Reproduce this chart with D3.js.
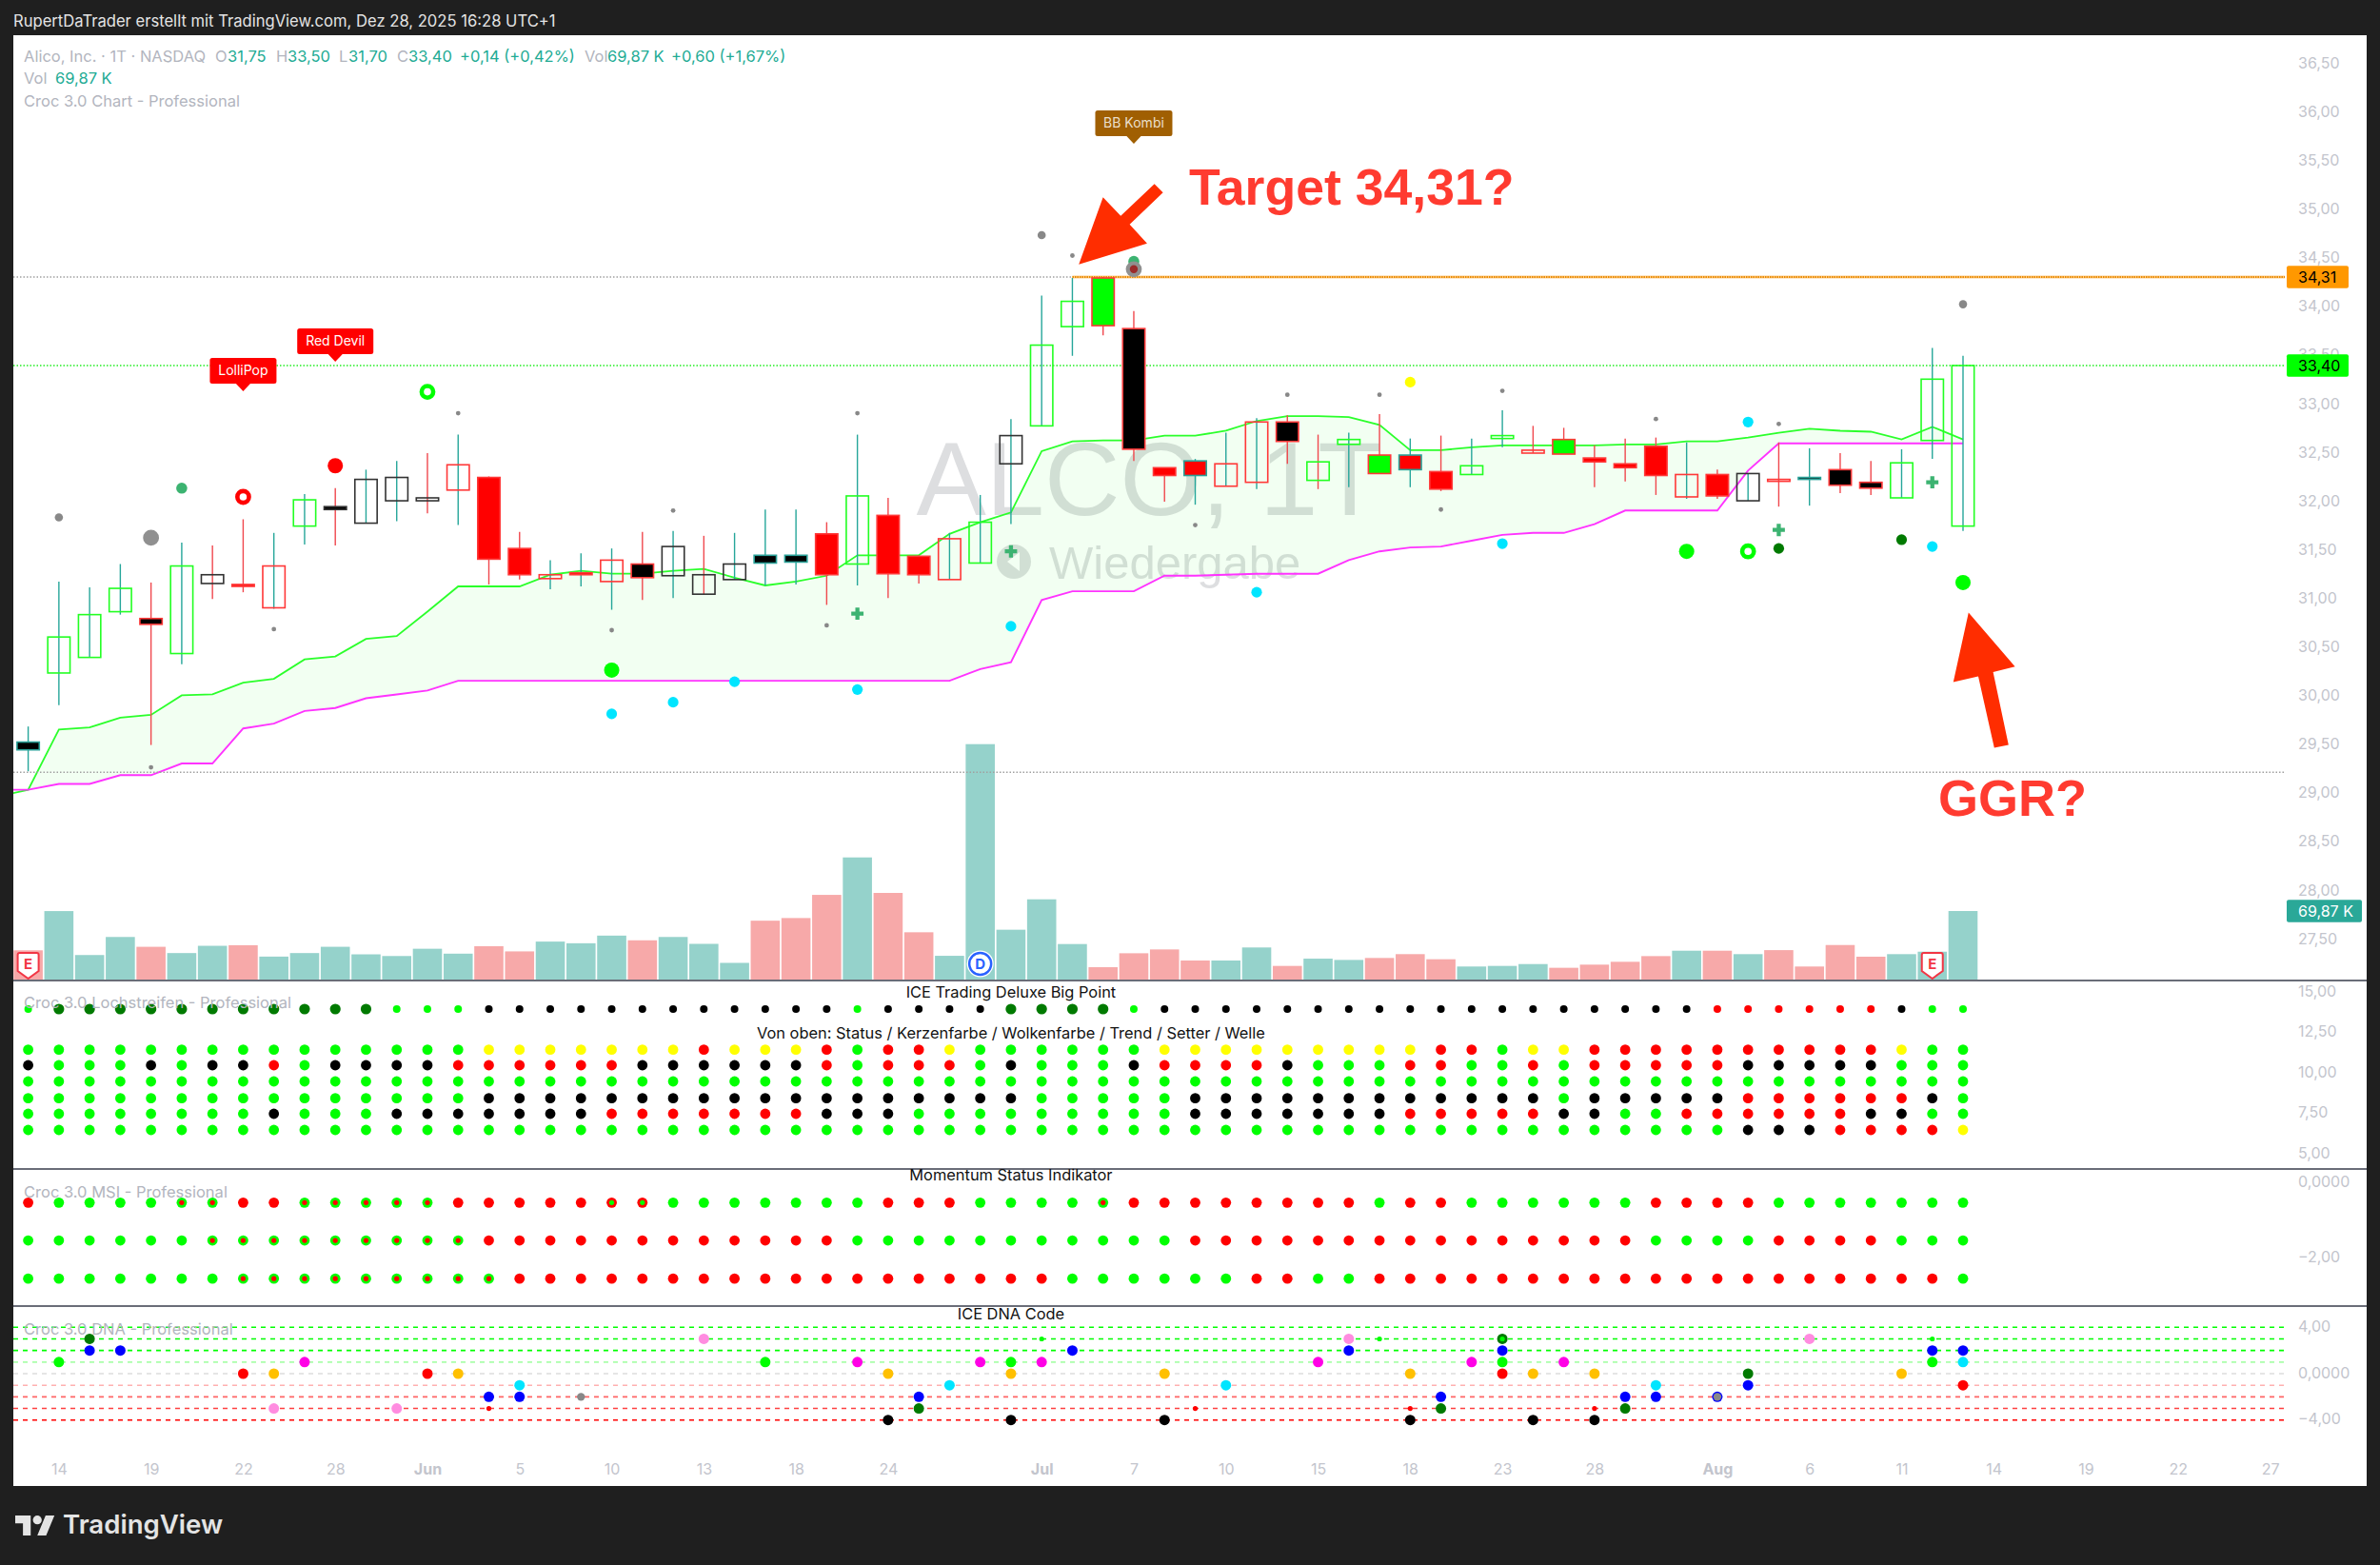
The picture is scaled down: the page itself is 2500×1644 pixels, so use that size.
<!DOCTYPE html>
<html>
<head>
<meta charset="utf-8">
<script src="https://cdn.jsdelivr.net/npm/d3@7"></script>
<style>
  html, body { margin: 0; padding: 0; background: #1f1f1f; }
  svg { display: block; }
  text { font-family: Inter, "Liberation Sans", sans-serif; }
</style>
</head>
<body>
<svg id="chart" width="2500" height="1644"></svg>
<script>
// candles, one per trading day from May 13 to Aug 13
const opens = [29.45,30.24,30.40,30.87,30.80,30.44,31.25,31.15,30.91,31.75,31.95,31.78,32.01,32.04,32.12,32.25,31.52,31.21,31.25,31.18,31.36,31.24,31.25,31.20,31.37,31.38,31.67,31.36,31.86,31.44,31.20,31.37,32.39,32.78,33.80,34.30,33.78,32.35,32.27,32.16,32.20,32.82,32.41,32.59,32.48,32.33,32.31,32.28,32.65,32.53,32.64,32.45,32.39,32.57,32.05,32.28,32.01,32.23,32.23,32.33,32.20,32.04,32.63,31.75];
const highs = [29.69,31.18,31.12,31.36,31.17,31.58,31.55,31.82,31.68,32.08,32.14,32.33,32.42,32.50,32.69,32.26,31.69,31.40,31.47,31.52,31.69,31.70,31.65,31.68,31.92,31.92,31.79,32.69,32.04,31.45,31.68,32.07,32.85,34.12,34.30,34.31,33.96,32.35,32.44,32.71,32.86,32.89,32.69,32.71,32.90,32.65,32.68,32.65,32.94,32.78,32.76,32.58,32.65,32.66,32.61,32.33,32.29,32.61,32.55,32.50,32.42,32.54,33.58,33.50];
const lows = [29.23,29.91,30.40,30.84,29.50,30.33,31.00,31.07,30.90,31.56,31.55,31.78,31.80,31.88,31.76,31.15,31.20,31.10,31.13,30.89,30.99,31.01,31.05,31.20,31.14,31.15,30.94,31.14,31.01,31.16,31.20,31.37,31.77,32.78,33.50,33.71,32.42,32.00,31.97,32.16,32.13,32.39,32.13,32.15,32.29,32.15,32.11,32.28,32.56,32.50,32.49,32.15,32.21,32.07,32.03,32.03,32.01,31.95,31.96,32.09,32.07,32.04,32.44,31.70];
const closes = [29.53,30.61,30.84,31.11,30.74,31.34,31.16,31.13,31.34,32.02,31.92,32.23,32.25,32.01,32.38,31.41,31.25,31.25,31.27,31.40,31.22,31.54,31.05,31.36,31.45,31.45,31.25,32.06,31.26,31.25,31.62,31.79,32.68,33.61,34.06,33.81,32.54,32.27,32.42,32.39,32.82,32.62,32.22,32.64,32.29,32.48,32.13,32.37,32.68,32.50,32.49,32.41,32.35,32.27,32.28,32.06,32.29,32.21,32.25,32.17,32.14,32.40,33.26,33.40];
const bodyFill = "KWWWKWWRWWKWWWWRRWRWKWWWKKRWRRWWWWWGKRRWWKWWGRRWWWGRRRWRWWKKKWWW".split("");
const bodyBorder = "TGGGRGKRRGKKKKRRRRRRRKKKTTRGRRRGKGGRRRTRRRGGRTRGGRRRRRRRKRTRRGGG".split("");

const volumes = [29.8,69.8,25,43.4,33.4,27,34.4,35,23.4,27,33.4,25.7,24,31.4,26.4,34,28.7,38.7,37,44.8,40,43.4,36.4,17,60,62.7,86.3,124.5,88.3,48.2,24.2,240,50.8,81.8,36.2,12.6,26.8,30.7,19.4,19.4,32.7,13.9,21.3,20,22,25.9,20.7,13.3,13.9,15.8,12,15.2,18.1,23.9,29.4,29.4,25.9,30,13.3,35.2,23.3,25.9,28.4,69.87];
const volumeSide = "RTTTRTTRTTTTTTTRRTTTRTTTRRRTRRTTTTTRRRRTTRTTRRRTTTRRRRTRTRRRRTTT".split("");

// cloud starts one day before the first candle, the left part is clipped
const cloudDays = d3.range(-1, 64);
const cloudUpper = [28.97,29.04,29.66,29.68,29.78,29.81,30.01,30.02,30.14,30.18,30.38,30.41,30.59,30.62,30.87,31.13,31.13,31.13,31.25,31.29,31.26,31.26,31.29,31.31,31.22,31.14,31.18,31.24,31.45,31.45,31.45,31.67,31.79,31.89,32.52,32.62,32.63,32.63,32.68,32.68,32.73,32.83,32.88,32.88,32.87,32.79,32.53,32.53,32.56,32.58,32.58,32.58,32.58,32.59,32.59,32.62,32.62,32.66,32.71,32.75,32.73,32.72,32.64,32.77,32.64];
const cloudLower = [29.04,29.04,29.10,29.10,29.19,29.19,29.31,29.31,29.67,29.72,29.85,29.88,29.98,30.02,30.06,30.16,30.16,30.16,30.16,30.16,30.16,30.16,30.16,30.16,30.16,30.16,30.16,30.16,30.16,30.16,30.16,30.16,30.28,30.35,30.99,31.08,31.08,31.08,31.24,31.24,31.25,31.26,31.26,31.26,31.40,31.49,31.53,31.54,31.60,31.66,31.68,31.68,31.77,31.91,31.91,31.91,31.91,32.32,32.60,32.60,32.60,32.60,32.60,32.60,32.60];

// markers on the price pane as [day, price]
const grayTiny = [[14,32.91],[8,30.69],[4,29.27],[19,30.68],[21,31.91],[26,30.73],[27,32.91],[34,34.53],[38,31.76],[41,33.10],[44,33.10],[46,31.92],[48,33.14],[53,32.85],[57,32.80]];
const grayMid = [[1,31.84],[33,34.74],[63,34.03]];
const grayBig = [[4,31.63],[36,34.39]];
const seaGreenDots = [[5,32.14],[36,34.47]];
const redBig = [[10,32.37]];
const redRings = [[7,32.05]];
const limeRings = [[13,33.13],[56,31.49]];
const limeBig = [[19,30.27],[54,31.49],[63,31.17]];
const cyanDots = [[19,29.82],[21,29.94],[23,30.15],[27,30.07],[32,30.72],[40,31.07],[48,31.57],[56,32.82],[62,31.54]];
const yellowDots = [[45,33.23]];
const darkGreenDots = [[57,31.52],[61,31.61]];
const plusMarks = [[27,30.85],[32,31.49],[57,31.71],[62,32.20]];
const brownCenters = [[36,34.39]];

const priceTicks = [36.5,36,35.5,35,34.5,34,33.5,33,32.5,32,31.5,31,30.5,30,29.5,29,28.5,28,27.5];
const dateTickDays = [1,4,7,10,13,16,19,22,25,28,33,36,39,42,45,48,51,55,58,61,64,67,70,73];
const dateTickLabels = ["14","19","22","28","Jun","5","10","13","18","24","Jul","7","10","15","18","23","28","Aug","6","11","14","19","22","27"];

// ICE pane, one row per indicator value
const iceTicks = [15,12.5,10,7.5,5];
const bigPointLevel = 13.94;
const bigPointRow = "GDDDDDDDDDDDGGGKKKKKKKKKKKKGKKKKDDDDGKKKKKKKKKKKKKKKKKKRRRRRRKGG".split("");
const iceLevels = [11.43,10.47,9.47,8.43,7.47,6.47];
const iceRows = [
  "GGGGGGGGGGGGGGGYYYYYYYRYYYRGRRYGGGGGGYYYYYYYYYRRGYYRRRRRRRRRRYGG",
  "KGGGKGKKRGKKKKRRRRRRKKKKKKRGRRRGKGGGKRRRRKGGGRRGGRGRRRRRKKKKKGGG",
  "GGGGGGGGGGGGGGGGGGGGGGGGGGGGGGGGGGGGGGGGGGGGGGGGGGGGGGGGGGGGGGGG",
  "GGGGGGGGGGGGGGGKKKKKKKKKKKKKKKKKKGGGGGKKKKKKKKKKKKGKKKKKRRRRRRKG",
  "GGGGGGGGKGGGKKKKKKKRRRRRRRKKKGGGGGGGGGKKKKKKKRRRRRKKGGRRRRRRKKGG",
  "GGGGGGGGGGGGGGGGGGGGGGGGGGGGGGGGGGGGGGGGGGGGGGGGGGGGGGGGKKKRRRRY"
].map(r => r.split(""));

// MSI pane, g = green with red core, r = red with green core
const msiTicks = [0,-2];
const msiLevels = [-0.53,-1.53,-2.54];
const msiRows = [
  "RGGGGggRRgggggRRRRRrrGGGGGGGRRRGGGGgRRRRRRRRGRRGGGGGGRRRRGGGGGGG",
  "GGGGGGgggggggggRRRRRRRRRRRRGGGGGGGGGGGRRRRRRRRRRRRRRRGGGGRRRRGGG",
  "GGGGGGGgggggggggRRRRRRRRRRRRRRRRRRGGGGGGRRGGRRRRRRRRRRRRRRRRRRRG"
].map(r => r.split(""));

// DNA pane as [day, level]
const dnaTicks = [4,0,-4];
const dnaLevels = [4,3,2,1,0,-1,-2,-3,-4];
const dnaLime = [[1,1],[24,1],[32,1],[48,1],[62,1]];
const dnaDarkGreen = [[2,3],[29,-3],[46,-3],[48,3],[52,-3],[56,0]];
const dnaBlue = [[2,2],[3,2],[15,-2],[16,-2],[29,-2],[34,2],[43,2],[46,-2],[48,2],[52,-2],[53,-2],[55,-2],[56,-1],[62,2],[63,2]];
const dnaRed = [[7,0],[13,0],[48,0],[63,-1]];
const dnaAmber = [[8,0],[14,0],[28,0],[32,0],[37,0],[45,0],[49,0],[51,0],[61,0]];
const dnaPink = [[8,-3],[12,-3],[22,3],[43,3],[58,3]];
const dnaMagenta = [[9,1],[27,1],[31,1],[33,1],[42,1],[47,1],[50,1]];
const dnaCyan = [[16,-1],[30,-1],[39,-1],[53,-1],[63,1]];
const dnaBlack = [[28,-4],[32,-4],[37,-4],[45,-4],[49,-4],[51,-4]];
const dnaGray = [[18,-2],[55,-2]];
const dnaSmallLime = [[33,3],[44,3],[48,3],[62,3]];
const dnaSmallRed = [[15,-3],[38,-3],[45,-3],[51,-3]];

const targetPrice = 34.31;
const lastPrice = 33.40;
const lowLinePrice = 29.22;
const lastVolume = 69.87;

const svg = d3.select("#chart");

const plot = { left: 14, right: 2486, axis: 2400, top: 37, bottom: 1561 };
const sep = [1030, 1228, 1372];

const x = d3.scaleLinear().domain([0, 63]).range([29.6, 2062]);
const yPrice = d3.scaleLinear().domain([34.31, 27.5]).range([291, 987]);
const yVol = d3.scaleLinear().domain([0, lastVolume]).range([1029, 957]);
const yIce = d3.scaleLinear().domain([15, 5]).range([1042, 1212]);
const yMsi = d3.scaleLinear().domain([0, -2]).range([1242.3, 1321.7]);
const yDna = d3.scaleLinear().domain([4, -4]).range([1394.3, 1491.7]);

const deDE = d3.formatLocale({ decimal: ",", thousands: ".", grouping: [3], currency: ["", "€"], minus: "−" });
const fmt2 = deDE.format(".2f");

const TEAL = "#26a69a";
const colorMap = { G: "#00ff00", D: "#007a00", K: "#000000", R: "#ff0000", Y: "#ffff00" };

svg.append("rect").attr("width", 2500).attr("height", 1644).attr("fill", "#1f1f1f");
svg.append("rect")
  .attr("x", plot.left).attr("y", plot.top)
  .attr("width", plot.right - plot.left).attr("height", plot.bottom - plot.top)
  .attr("fill", "#fff");

svg.append("clipPath").attr("id", "mainClip").append("rect")
  .attr("x", plot.left).attr("y", plot.top)
  .attr("width", plot.axis - plot.left).attr("height", sep[0] - plot.top);

// watermark
const wm = svg.append("g").attr("fill", "#7d8088").attr("fill-opacity", 0.26);
wm.append("text").attr("x", 1207).attr("y", 541).attr("text-anchor", "middle")
  .attr("font-size", 110).style("font-family", "'Liberation Sans'").text("ALCO, 1T");
wm.append("circle").attr("cx", 1065).attr("cy", 590).attr("r", 18);
wm.append("path").attr("d", "M1071,580 L1058,590 L1071,600 Z").attr("fill", "#fff").attr("fill-opacity", 1);
wm.append("text").attr("x", 1102).attr("y", 608).attr("font-size", 49)
  .style("font-family", "'Liberation Sans'").text("Wiedergabe");

// volume
svg.append("g").selectAll("rect").data(volumes).join("rect")
  .attr("x", (d, i) => x(i) - 15.3)
  .attr("y", d => yVol(d))
  .attr("width", 30.6)
  .attr("height", d => yVol(0) - yVol(d))
  .attr("fill", (d, i) => volumeSide[i] === "T" ? "#95d2cb" : "#f7a9a9");

// cloud
const main = svg.append("g").attr("clip-path", "url(#mainClip)");
const area = d3.area()
  .x((d, i) => x(cloudDays[i]))
  .y0((d, i) => yPrice(cloudLower[i]))
  .y1(d => yPrice(d));
const lineOf = d3.line().x((d, i) => x(cloudDays[i])).y(d => yPrice(d));
main.append("path").attr("d", area(cloudUpper)).attr("fill", "#00ff00").attr("fill-opacity", 0.05);
main.append("path").attr("d", lineOf(cloudUpper)).attr("fill", "none").attr("stroke", "#2bff2b").attr("stroke-width", 1.8);
main.append("path").attr("d", lineOf(cloudLower)).attr("fill", "none").attr("stroke", "#ff33ff").attr("stroke-width", 1.9);

// price lines
svg.append("line").attr("x1", plot.left).attr("x2", x(34))
  .attr("y1", yPrice(targetPrice)).attr("y2", yPrice(targetPrice))
  .attr("stroke", "#a0a0a0").attr("stroke-width", 1.4).attr("stroke-dasharray", "1.5 2");
svg.append("line").attr("x1", x(34)).attr("x2", plot.axis)
  .attr("y1", yPrice(targetPrice)).attr("y2", yPrice(targetPrice))
  .attr("stroke", "#ffcf8f").attr("stroke-width", 3);
svg.append("line").attr("x1", x(34)).attr("x2", plot.axis)
  .attr("y1", yPrice(targetPrice)).attr("y2", yPrice(targetPrice))
  .attr("stroke", "#e88a00").attr("stroke-width", 2).attr("stroke-dasharray", "1.5 1");
svg.append("line").attr("x1", plot.left).attr("x2", plot.axis)
  .attr("y1", yPrice(lastPrice)).attr("y2", yPrice(lastPrice))
  .attr("stroke", "#22ee22").attr("stroke-width", 1.4).attr("stroke-dasharray", "1.5 2");
svg.append("line").attr("x1", plot.left).attr("x2", plot.axis)
  .attr("y1", yPrice(lowLinePrice)).attr("y2", yPrice(lowLinePrice))
  .attr("stroke", "#a0a0a0").attr("stroke-width", 1.4).attr("stroke-dasharray", "1.5 2");

// candles
const candles = svg.append("g");
candles.selectAll("line").data(opens).join("line")
  .attr("x1", (d, i) => x(i)).attr("x2", (d, i) => x(i))
  .attr("y1", (d, i) => yPrice(highs[i])).attr("y2", (d, i) => yPrice(lows[i]))
  .attr("stroke", (d, i) => closes[i] >= d ? TEAL : "#f0484e")
  .attr("stroke-width", 1.4);
candles.selectAll("rect").data(opens).join("rect")
  .attr("x", (d, i) => x(i) - 11.7)
  .attr("y", (d, i) => yPrice(Math.max(d, closes[i])))
  .attr("width", 23.4)
  .attr("height", (d, i) => Math.abs(yPrice(d) - yPrice(closes[i])))
  .attr("fill", (d, i) => {
    const f = bodyFill[i];
    return f === "W" ? "#fff" : colorMap[f];
  })
  .attr("fill-opacity", (d, i) => bodyFill[i] === "W" ? 0 : 1)
  .attr("stroke", (d, i) => {
    const b = bodyBorder[i];
    return b === "T" ? "#2aa198" : b === "R" ? "#ff3838" : b === "G" ? "#22ff22" : "#333";
  })
  .attr("stroke-width", 1.6);

function drawDots(g, data, y, color, r) {
  g.append("g").selectAll("circle").data(data).join("circle")
    .attr("cx", d => x(d[0]))
    .attr("cy", d => y(d[1]))
    .attr("r", r)
    .attr("fill", color);
}

function drawRings(g, data, color) {
  g.append("g").selectAll("circle").data(data).join("circle")
    .attr("cx", d => x(d[0]))
    .attr("cy", d => yPrice(d[1]))
    .attr("r", 6.1)
    .attr("fill", "#fff")
    .attr("stroke", color)
    .attr("stroke-width", 4.6);
}

const marks = svg.append("g");
drawDots(marks, seaGreenDots, yPrice, "#3cb371", 5.8);
drawDots(marks, grayTiny, yPrice, "#888", 2.4);
drawDots(marks, grayMid, yPrice, "#888", 4.3);
drawDots(marks, grayBig, yPrice, "#909090", 8.4);
drawDots(marks, brownCenters, yPrice, "#9c2a2a", 4.2);
drawDots(marks, redBig, yPrice, "#ff0000", 8);
drawDots(marks, limeBig, yPrice, "#00ff00", 8);
drawDots(marks, cyanDots, yPrice, "#00e5ff", 5.6);
drawDots(marks, yellowDots, yPrice, "#ffff00", 5.6);
drawDots(marks, darkGreenDots, yPrice, "#007a00", 5.6);
drawRings(marks, redRings, "#ff0000");
drawRings(marks, limeRings, "#00ff00");
marks.append("g").selectAll("path").data(plusMarks).join("path")
  .attr("d", d3.symbol(d3.symbolCross).size(92))
  .attr("transform", d => `translate(${x(d[0])},${yPrice(d[1])})`)
  .attr("fill", "#3cb371");

// labels with a pointer, tip anchored on the bar
function flag(day, price, name, color, textColor, w) {
  const tx = x(day), ty = yPrice(price);
  const g = svg.append("g").attr("transform", `translate(${tx},${ty})`);
  g.append("rect").attr("x", -w / 2).attr("y", -35).attr("width", w).attr("height", 27)
    .attr("rx", 2.5).attr("fill", color);
  g.append("path").attr("d", "M-8,-8.5 L0,0 L8,-8.5 Z").attr("fill", color);
  g.append("text").attr("y", -21.5).attr("text-anchor", "middle").attr("dy", "0.35em")
    .attr("font-size", 14).attr("fill", textColor).text(name);
}
flag(7, 33.136, "LolliPop", "#ff0000", "#fff", 70);
flag(10, 33.44, "Red Devil", "#ff0000", "#fff", 80);
flag(36, 35.68, "BB Kombi", "#a05f02", "#eadfcb", 81);

// event badges at the foot of the volume bars
function earnings(day) {
  const g = svg.append("g").attr("transform", `translate(${x(day)},${yVol(0) - 28})`);
  g.append("path").attr("d", "M-11,2 Q-11,0 -9,0 L9,0 Q11,0 11,2 L11,19 L0,27 L-11,19 Z")
    .attr("fill", "#fff").attr("stroke", "#f23645").attr("stroke-width", 2);
  g.append("text").attr("y", 17).attr("text-anchor", "middle").attr("font-size", 15).attr("font-weight", 700)
    .attr("fill", "#f23645").text("E");
}
earnings(0);
earnings(62);
const div = svg.append("g").attr("transform", `translate(${x(31)},${yVol(0) - 16.5})`);
div.append("circle").attr("r", 14).attr("fill", "#fff");
div.append("circle").attr("r", 11.5).attr("fill", "#fff").attr("stroke", "#2962ff").attr("stroke-width", 2.5);
div.append("text").attr("text-anchor", "middle").attr("dy", "0.36em").attr("font-size", 15).attr("font-weight", 700)
  .attr("fill", "#2962ff").text("D");

// pane separators
svg.append("g").selectAll("line").data(sep).join("line")
  .attr("x1", plot.left).attr("x2", plot.right)
  .attr("y1", d => d).attr("y2", d => d)
  .attr("stroke", "#6a6d78").attr("stroke-width", 2);

// ICE pane
const ice = svg.append("g");
function bigPointR(c) { return c === "D" ? 5.6 : 4; }
ice.append("g").selectAll("circle").data(bigPointRow).join("circle")
  .attr("cx", (d, i) => x(i))
  .attr("cy", yIce(bigPointLevel))
  .attr("r", d => bigPointR(d))
  .attr("fill", d => colorMap[d]);
iceRows.forEach((row, r) => {
  ice.append("g").selectAll("circle").data(row).join("circle")
    .attr("cx", (d, i) => x(i))
    .attr("cy", yIce(iceLevels[r]))
    .attr("r", 5.4)
    .attr("fill", d => colorMap[d]);
});

// MSI pane
const msi = svg.append("g");
msiRows.forEach((row, r) => {
  msi.append("g").selectAll("circle").data(row).join("circle")
    .attr("cx", (d, i) => x(i))
    .attr("cy", yMsi(msiLevels[r]))
    .attr("r", 5.4)
    .attr("fill", d => (d === "G" || d === "g") ? "#00ff00" : "#ff0000");
  msi.append("g").selectAll("circle")
    .data(row.map((d, i) => [i, d]).filter(d => d[1] === "g" || d[1] === "r"))
    .join("circle")
    .attr("cx", d => x(d[0]))
    .attr("cy", yMsi(msiLevels[r]))
    .attr("r", 2.6)
    .attr("fill", d => d[1] === "g" ? "#ff0000" : "#00ff00");
});

// DNA pane, level lines first and the dots over them
const dnaColors = { "4": "#00ff00", "3": "#00ff00", "2": "#00ff00", "1": "#aaffaa", "0": "#dddddd", "-1": "#ffb0b0", "-2": "#ff6666", "-3": "#ff4040", "-4": "#ff0000" };
svg.append("g").selectAll("line").data(dnaLevels).join("line")
  .attr("x1", plot.left).attr("x2", plot.axis)
  .attr("y1", d => yDna(d)).attr("y2", d => yDna(d))
  .attr("stroke", d => dnaColors[d])
  .attr("stroke-width", 1.6)
  .attr("stroke-dasharray", "5 5");
const dna = svg.append("g");
drawDots(dna, dnaBlue, yDna, "#0000ff", 5.5);
drawDots(dna, dnaGray, yDna, "#888", 4.2);
drawDots(dna, dnaLime, yDna, "#00ff00", 5.5);
drawDots(dna, dnaDarkGreen, yDna, "#007a00", 5.5);
drawDots(dna, dnaRed, yDna, "#ff0000", 5.5);
drawDots(dna, dnaAmber, yDna, "#ffc000", 5.5);
drawDots(dna, dnaPink, yDna, "#ff8ce0", 5.5);
drawDots(dna, dnaMagenta, yDna, "#ff00e6", 5.5);
drawDots(dna, dnaCyan, yDna, "#00e5ff", 5.5);
drawDots(dna, dnaBlack, yDna, "#000", 5.5);
drawDots(dna, dnaSmallLime, yDna, "#00ff00", 2.6);
drawDots(dna, dnaSmallRed, yDna, "#ff0000", 2.6);

// pane captions
const centerX = x(32);
[["ICE Trading Deluxe Big Point", 1042], ["Von oben: Status / Kerzenfarbe / Wolkenfarbe / Trend / Setter / Welle", 1085],
 ["Momentum Status Indikator", 1234], ["ICE DNA Code", 1380]].forEach(c => {
  svg.append("text").attr("x", centerX).attr("y", c[1]).attr("dy", "0.35em").attr("text-anchor", "middle")
    .attr("font-size", 16.4).attr("fill", "#111").text(c[0]);
});

// legend
const GRAY = "#b2b5be", GREEN = "#22ab94";
[[25, 59, "Alico, Inc. · 1T · NASDAQ", GRAY], [226, 59, "O", GRAY], [239, 59, "31,75", GREEN], [290, 59, "H", GRAY], [302, 59, "33,50", GREEN],
 [356, 59, "L", GRAY], [366, 59, "31,70", GREEN], [417, 59, "C", GRAY], [429, 59, "33,40", GREEN], [483, 59, "+0,14 (+0,42%)", GREEN],
 [614, 59, "Vol", GRAY], [638, 59, "69,87 K", GREEN], [705, 59, "+0,60 (+1,67%)", GREEN],
 [25, 82, "Vol", GRAY], [58, 82, "69,87 K", GREEN], [25, 106, "Croc 3.0 Chart - Professional", GRAY],
 [25, 1053, "Croc 3.0 Lochstreifen - Professional", GRAY], [25, 1252, "Croc 3.0 MSI - Professional", GRAY], [25, 1396, "Croc 3.0 DNA - Professional", GRAY]
].forEach(t => {
  svg.append("text").attr("x", t[0]).attr("y", t[1]).attr("dy", "0.35em").attr("font-size", 16.5).attr("fill", t[3]).text(t[2]);
});

// right axes
function rightAxis(scale, values, format) {
  const g = svg.append("g").attr("transform", `translate(${plot.axis},0)`)
    .call(d3.axisRight(scale).tickValues(values).tickFormat(format).tickSize(0).tickPadding(14));
  g.select(".domain").remove();
  g.selectAll("text").attr("font-size", 16).attr("fill", "#c3c5cd").attr("y", -1).style("font-family", "Inter, sans-serif");
}
rightAxis(yPrice, priceTicks, fmt2);
rightAxis(yIce, iceTicks, fmt2);
rightAxis(yMsi, msiTicks, d => d === 0 ? "0,0000" : fmt2(d));
rightAxis(yDna, dnaTicks, d => d === 0 ? "0,0000" : fmt2(d));

// price tags
function tag(y, w, label, bg, fg) {
  svg.append("rect").attr("x", plot.axis + 2).attr("y", y - 11.7).attr("width", w).attr("height", 23.4)
    .attr("rx", 2).attr("fill", bg);
  svg.append("text").attr("x", plot.axis + 14).attr("y", y).attr("dy", "0.36em").attr("font-size", 16)
    .attr("fill", fg).text(label);
}
tag(yPrice(targetPrice), 65, fmt2(targetPrice), "#ff9800", "#000");
tag(yPrice(lastPrice), 65, fmt2(lastPrice), "#00ff00", "#000");
tag(yVol(lastVolume), 79, "69,87 K", "#2aa898", "#fff");

// date axis
const gx = svg.append("g").attr("transform", "translate(0,1543)")
  .call(d3.axisBottom(x).tickValues(dateTickDays).tickFormat((d, i) => dateTickLabels[i]).tickSize(0).tickPadding(0));
gx.select(".domain").remove();
gx.selectAll("text").attr("dy", "0.35em").attr("y", 0).attr("font-size", 16).attr("fill", "#c3c5cd")
  .attr("font-weight", (d, i) => isNaN(+dateTickLabels[i]) ? 700 : 400);

// hand drawn annotations
function arrow(day, price, offsets) {
  const pts = [[0, 0]].concat(offsets);
  svg.append("path")
    .attr("transform", `translate(${x(day)},${yPrice(price)})`)
    .attr("d", d3.line()(pts) + "Z")
    .attr("fill", "#ff2d00");
}
arrow(34.21, 34.44, [[25.4,-70.4],[44,-51],[79.4,-84.4],[88.4,-75.4],[53.4,-42],[71.7,-22]]);
arrow(63.18, 30.86, [[48.8,56.7],[25.8,62.4],[42,139],[27,142],[10.2,67],[-16,73]]);
svg.append("text").attr("x", 1249).attr("y", 215).attr("font-size", 53.6).attr("font-weight", 700)
  .style("font-family", "'Liberation Sans'").attr("fill", "#ff3b30").text("Target 34,31?");
svg.append("text").attr("x", 2036).attr("y", 857).attr("font-size", 54).attr("font-weight", 700)
  .style("font-family", "'Liberation Sans'").attr("fill", "#ff3b30").text("GGR?");

// header and footer
svg.append("text").attr("x", 14).attr("y", 22).attr("dy", "0.35em").attr("font-size", 16.6).attr("fill", "#e4e4e4")
  .text("RupertDaTrader erstellt mit TradingView.com, Dez 28, 2025 16:28 UTC+1");
const logo = svg.append("g").attr("transform", "translate(16,1587.4) scale(1.16)").attr("fill", "#e4e4e4");
logo.append("path").attr("d", "M14 22H7V11H0V4h14v18ZM28 22h-8l7.5-18h8L28 22Z");
logo.append("circle").attr("cx", 20).attr("cy", 8).attr("r", 4);
svg.append("text").attr("x", 66).attr("y", 1611).attr("font-size", 27.6).attr("font-weight", 600).attr("fill", "#e4e4e4")
  .text("TradingView");
</script>
</body>
</html>
